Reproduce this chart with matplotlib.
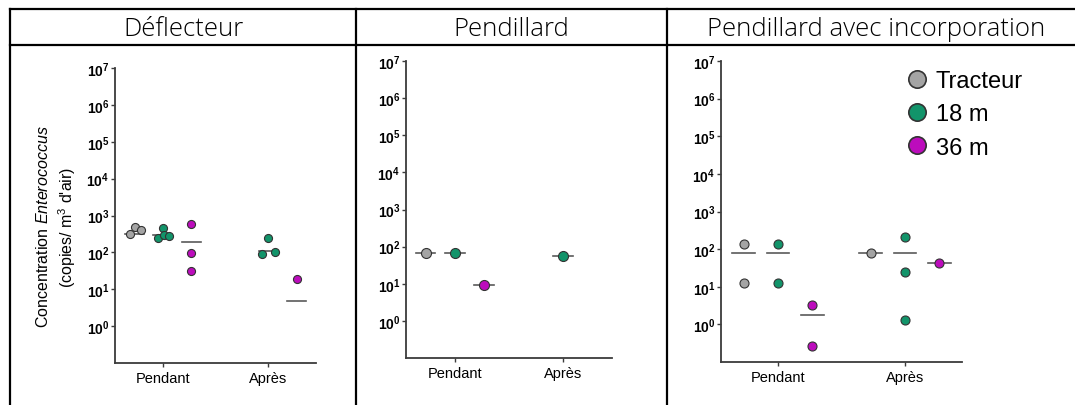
import matplotlib
matplotlib.use("Agg")
import matplotlib.pyplot as plt
from matplotlib.lines import Line2D

plt.rcParams["font.family"] = ["Liberation Sans", "DejaVu Sans"]
plt.rcParams["mathtext.fontset"] = "custom"
plt.rcParams["mathtext.rm"] = "Liberation Sans"
plt.rcParams["mathtext.it"] = "Liberation Sans:italic"
plt.rcParams["mathtext.bf"] = "Liberation Sans:bold"

panel_titles = ["Déflecteur", "Pendillard", "Pendillard avec incorporation"]
periods = ["Pendant", "Après"]
groups = ["Tracteur", "18 m", "36 m"]
group_colors = ["#a4a4a4", "#12946a", "#bc0cbc"]

# copies / m3 d'air, one list per group (Tracteur, 18 m, 36 m)
deflecteur_pendant = [[310, 475, 415], [250, 455, 290, 280], [600, 94, 31]]
deflecteur_pendant_mid = [310, 300, 186]
deflecteur_apres = [[], [240, 90, 105], [18.6]]
deflecteur_apres_mid = [None, 110, 4.7]

pendillard_pendant = [[68], [68], [9.4]]
pendillard_pendant_mid = [68, 68, 9.4]
pendillard_apres = [[], [55], []]
pendillard_apres_mid = [None, 55, None]

incorporation_pendant = [[141, 12.8], [141, 12.8], [3.25, 0.26]]
incorporation_pendant_mid = [80, 80, 1.77]
incorporation_apres = [[80], [214, 25, 1.3], [44]]
incorporation_apres_mid = [80, 80, 44]

# small horizontal spread for overlapping points in the first panel
deflecteur_jitter_pendant = [[-0.04, 0.01, 0.065], [-0.04, 0.0, 0.01, 0.06], [0, 0, 0]]
deflecteur_jitter_apres = [[], [0.0, -0.06, 0.06], [0]]

offset = 0.27
half_w = 0.09
axis_col = "#3c3c3c"


def draw_panel(ax, pendant, pendant_mid, apres, apres_mid, ms,
               jit_pendant=None, jit_apres=None):
    for c, (vals, mids, jit) in enumerate([(pendant, pendant_mid, jit_pendant),
                                           (apres, apres_mid, jit_apres)]):
        for g in range(3):
            xc = c + (g - 1) * offset
            if mids[g] is not None:
                ax.plot([xc - half_w, xc + half_w], [mids[g], mids[g]],
                        color="#5a5a5a", lw=1.2, zorder=2)
            if vals[g]:
                dx = jit[g] if jit else [0] * len(vals[g])
                ax.plot([xc + d for d in dx], vals[g], ls="", marker="o", ms=ms,
                        mfc=group_colors[g], mec="#333333", mew=0.8, zorder=3)
    ax.set_yscale("log")
    ax.set_ylim(1e-1, 1e7)
    ax.set_xlim(-0.45, 1.45)
    ax.set_yticks([10 ** k for k in range(8)])
    ax.set_yticklabels([r"$\mathbf{10^{%d}}$" % k for k in range(8)], fontsize=10)
    ax.yaxis.set_minor_locator(matplotlib.ticker.NullLocator())
    ax.set_xticks([0, 1])
    ax.set_xticklabels(periods, fontsize=10.5)
    for s in ["top", "right"]:
        ax.spines[s].set_visible(False)
    for s in ["left", "bottom"]:
        ax.spines[s].set_color(axis_col)
        ax.spines[s].set_linewidth(1.3)
    ax.tick_params(axis="y", length=3, width=1, pad=1, color=axis_col)
    ax.tick_params(axis="x", length=3, width=1, pad=3, color=axis_col)


fig = plt.figure(figsize=(10.75, 4.06), dpi=100)
W, H = 1075, 406


def px_axes(l, t, r, b):
    return fig.add_axes([l / W, 1 - b / H, (r - l) / W, (b - t) / H])


ax1 = px_axes(115, 69, 316, 364)
ax2 = px_axes(406, 62, 612, 359)
ax3 = px_axes(721, 62, 962, 363)

draw_panel(ax1, deflecteur_pendant, deflecteur_pendant_mid,
           deflecteur_apres, deflecteur_apres_mid, 5.8,
           deflecteur_jitter_pendant, deflecteur_jitter_apres)
draw_panel(ax2, pendillard_pendant, pendillard_pendant_mid,
           pendillard_apres, pendillard_apres_mid, 7.2)
draw_panel(ax3, incorporation_pendant, incorporation_pendant_mid,
           incorporation_apres, incorporation_apres_mid, 6.5)

# y label of the first panel, two centred lines
fig.text(43 / W, 1 - 227 / H, r"Concentration $\mathit{Enterococcus}$",
         rotation=90, ha="center", va="center", fontsize=11.5)
fig.text(67 / W, 1 - 227 / H, r"(copies/ m$^3$ d'air)",
         rotation=90, ha="center", va="center", fontsize=11.5)

handles = [Line2D([], [], ls="", marker="o", ms=12.5, mfc=col, mec="#333333", mew=1.2)
           for col in group_colors]
ax3.legend(handles, groups, loc="upper left", bbox_to_anchor=(906 / W, 1 - 71 / H),
           bbox_transform=fig.transFigure, frameon=False, fontsize=17,
           handlelength=0.9, handletextpad=0.35, labelspacing=0.48, borderpad=0,
           borderaxespad=0)

# table grid and header row
lw = 1.6
top, head = 1 - 10 / H, 1 - 46 / H
for y in (top, head):
    fig.add_artist(Line2D([10 / W, 1], [y, y], transform=fig.transFigure,
                          color="black", lw=lw))
for x in (10, 356, 667):
    fig.add_artist(Line2D([x / W, x / W], [0, top], transform=fig.transFigure,
                          color="black", lw=lw))
for title, xc in zip(panel_titles, [183, 511, 876]):
    fig.text(xc / W, 1 - 29 / H, title, ha="center", va="center",
             fontsize=18.5, fontweight="light",
             family=["Open Sans", "DejaVu Sans"], color="black")

fig.savefig("out.png", dpi=100)
